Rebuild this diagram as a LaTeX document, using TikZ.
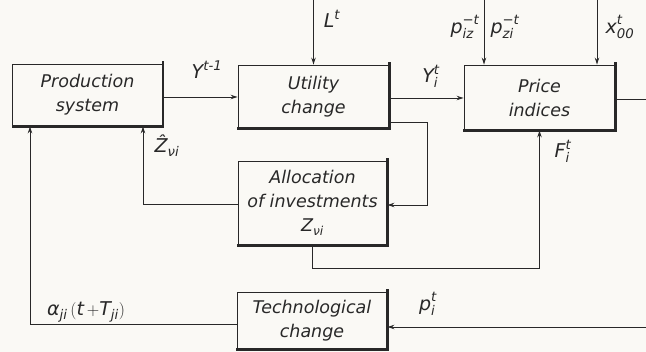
\documentclass[tikz,border=0pt]{standalone}
\usepackage{amsmath}
\usepackage{fontspec}
\setsansfont{DejaVu Sans}
\usetikzlibrary{arrows.meta}
\definecolor{ink}{RGB}{40,40,40}
\definecolor{paper}{RGB}{250,249,245}
\newcommand\tx[1]{\textnormal{\sffamily\itshape #1}}
\newcommand\pb{\tx{p\vphantom{Pl}}}
\newcommand\xb{\tx{x\vphantom{Pl}}}
\tikzset{
  blk/.style={draw=ink, line width=0.9pt, text=ink, align=center, inner sep=0pt,
    font=\sffamily\itshape\fontsize{17.5}{24}\selectfont},
  shadowline/.style={draw=ink, line width=2.2pt, line cap=rect},
  conn/.style={draw=ink, line width=0.8pt},
  arr/.style={conn, -{Stealth[length=7pt,width=4.5pt]}},
  lab/.style={text=ink, inner sep=0pt, font=\fontsize{19}{21}\selectfont}
}
\begin{document}
\begin{tikzpicture}[x=1pt,y=-1pt]
\useasboundingbox[fill=paper] (0,0) rectangle (646,352);
% blocks
\node[blk, minimum width=150pt, minimum height=62pt] (prod) at (87.5,95) {Production\\system};
\node[blk, minimum width=151pt, minimum height=63pt] (util) at (313.5,96.5) {Utility\\change};
\node[blk, minimum width=151pt, minimum height=65pt] (price) at (539.5,97.5) {Price\\indices};
\node[blk, minimum width=149pt, minimum height=84pt] (alloc) at (312.5,203) {Allocation\\of investments\\$\tx{Z}_{\tx{νi}}$};
\node[blk, minimum width=150pt, minimum height=57pt] (tech) at (312,320.5) {Technological\\change};
\foreach \n in {prod,util,price,alloc,tech}
  \draw[shadowline] ([yshift=1pt]\n.north east) -- (\n.south east) -- ([xshift=1pt]\n.south west);
% free ends
\coordinate (Ltop) at (313.5,0);
\coordinate (ptop) at (484,0);
\coordinate (xtop) at (597,0);
\coordinate (pout) at (646,99);
\coordinate (pin) at (646,327);
\coordinate (u1) at (389,122);
\coordinate (u2) at (427,122);
\coordinate (u3) at (427,205);
\coordinate (a1) at (143,204);
\coordinate (b1) at (312.5,268);
\coordinate (b2) at (539.5,268);
\coordinate (t1) at (30,324);
% connectors
\draw[arr] (Ltop) -- (util.north);
\draw[arr] (ptop) -- (ptop |- price.north);
\draw[arr] (xtop) -- (xtop |- price.north);
\draw[arr] (prod.east |- 0,97) -- (util.west |- 0,97);
\draw[arr] (util.east |- 0,98) -- (price.west |- 0,98);
\draw[conn] (price.east |- pout) -- (pout);
\draw[arr] (u1) -- (u2) -- (u3) -- (alloc.east |- u3);
\draw[arr] (alloc.west |- a1) -- (a1) -- (a1 |- prod.south);
\draw[arr] (alloc.south) -- (b1) -- (b2) -- (price.south);
\draw[arr] (tech.west |- t1) -- (t1) -- (t1 |- prod.south);
\draw[arr] (pin) -- (tech.east |- pin);
% labels
\node[lab] (lY) at (207,70) {$\tx{Y}^{\tx{t-1}}$};
\node[lab] (lL) at (332,19) {$\tx{L}^{\tx{t}}$};
\node[lab] (lYi) at (431,76) {$\tx{Y}_{\tx{i}}^{\tx{t}}$};
\node[lab] (lpiz) at (465,27) {$\pb_{\tx{iz}}^{\tx{−t}}$};
\node[lab] (lpzi) at (505,27) {$\pb_{\tx{zi}}^{\tx{−t}}$};
\node[lab] (lx) at (620,27) {$\xb_{\tx{00}}^{\tx{t}}$};
\node[lab] (lF) at (563,151) {$\tx{F}_{\tx{i}}^{\tx{t}}$};
\node[lab] (lZ) at (167,146) {$\tx{Ẑ}_{\tx{νi}}$};
\node[lab] (la) at (86,312) {$\tx{α}_{\tx{ji}}\,(\tx{t}\,{+}\tx{T}_{\tx{ji}})$};
\node[lab] (lp) at (428,304) {$\pb_{\tx{i}}^{\tx{t}}$};
\end{tikzpicture}
\end{document}
